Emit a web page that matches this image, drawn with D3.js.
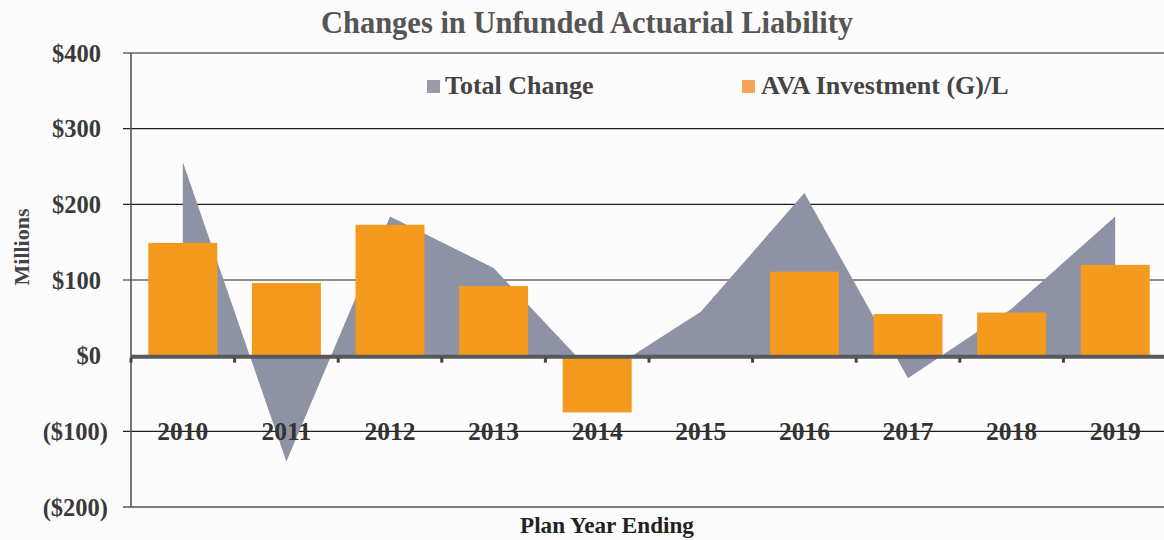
<!DOCTYPE html>
<html>
<head>
<meta charset="utf-8">
<script src="https://cdn.jsdelivr.net/npm/d3@7"></script>
<style>
  html, body { margin: 0; padding: 0; background: #fdfcfc; }
  svg { display: block; }
  text { font-family: "Liberation Serif", "Times New Roman", serif; font-weight: bold; }
</style>
</head>
<body>
<svg id="chart" width="1164" height="540"></svg>
<script>
const years = ["2010","2011","2012","2013","2014","2015","2016","2017","2018","2019"];
const totalChange = [256, -140, 184, 116, -30, 58, 215, -30, 62, 184];
const avaInvestment = [149, 96, 173, 92, -75, 0, 111, 55, 57, 120];
const yTicks = [-200, -100, 0, 100, 200, 300, 400];
const seriesNames = ["Total Change", "AVA Investment (G)/L"];

(function () {
const svg = d3.select("#chart");
const W = 1164, H = 540;
const pLeft = 131, pRight = 1167, pTop = 53, pBottom = 507;

const x = d3.scaleBand().domain(years).range([pLeft, pRight]).paddingInner(0.334).paddingOuter(0.167);
const y = d3.scaleLinear().domain([-200, 400]).range([pBottom, pTop]);

const fmt = v => v < 0 ? "($" + Math.abs(v) + ")" : "$" + v;

// gridlines
svg.append("g").selectAll("line").data(yTicks.filter(v => v !== 0 && v !== -200)).join("line")
  .attr("x1", pLeft - 8).attr("x2", W).attr("y1", d => y(d)).attr("y2", d => y(d))
  .attr("stroke", "#1e1e1e").attr("stroke-width", 1.2);
svg.append("line").attr("x1", pLeft - 8).attr("x2", W).attr("y1", y(-200)).attr("y2", y(-200))
  .attr("stroke", "#555").attr("stroke-width", 1.5);

// y axis labels
svg.append("g").selectAll("text").data(yTicks).join("text")
  .attr("x", d => d < 0 ? 108 : 101)
  .attr("y", d => y(d)).attr("dy", "0.36em")
  .attr("text-anchor", "end").attr("font-size", 24.5).attr("fill", "#3a3a3a")
  .text(fmt);

// area for total change
const area = d3.area()
  .x((d, i) => x(years[i]) + x.bandwidth() / 2)
  .y0(y(0)).y1(d => y(d))
  .curve(d3.curveLinear);
svg.append("path").datum(totalChange).attr("d", area).attr("fill", "#8d92a5");

// bars
svg.append("g").selectAll("rect").data(avaInvestment).join("rect")
  .attr("x", (d, i) => x(years[i]))
  .attr("width", x.bandwidth())
  .attr("y", d => y(Math.max(0, d)))
  .attr("height", d => Math.abs(y(d) - y(0)))
  .attr("fill", "#f39a1f");

// y axis line
svg.append("line").attr("x1", pLeft).attr("x2", pLeft).attr("y1", pTop).attr("y2", pBottom)
  .attr("stroke", "#555").attr("stroke-width", 1.6);

// zero axis
svg.append("line").attr("x1", pLeft).attr("x2", W).attr("y1", y(0) + 1).attr("y2", y(0) + 1)
  .attr("stroke", "#58595b").attr("stroke-width", 4);
// tick marks at band boundaries
svg.append("g").selectAll("rect").data(years).join("rect")
  .attr("x", d => x(d) - x.step() * x.paddingInner() / 2 - 1.5)
  .attr("y", y(0) + 2).attr("width", 3).attr("height", 5)
  .attr("fill", "#444");

// category labels
svg.append("g").selectAll("text").data(years).join("text")
  .attr("x", d => x(d) + x.bandwidth() / 2)
  .attr("y", y(-100)).attr("dy", "0.34em")
  .attr("text-anchor", "middle").attr("font-size", 25.5).attr("fill", "#333")
  .text(d => d);

// title
svg.append("text").attr("x", 587).attr("y", 33).attr("text-anchor", "middle")
  .attr("font-size", 30.5).attr("fill", "#555").text("Changes in Unfunded Actuarial Liability");

// axis titles
svg.append("text").attr("transform", "translate(29,247) rotate(-90)")
  .attr("text-anchor", "middle").attr("font-size", 22).attr("fill", "#444").text("Millions");
svg.append("text").attr("x", 607).attr("y", 533).attr("text-anchor", "middle")
  .attr("font-size", 23.2).attr("fill", "#222").text("Plan Year Ending");

// legend
const legend = [
  { name: seriesNames[0], color: "#9a9cac", sx: 427, tx: 445 },
  { name: seriesNames[1], color: "#f4a458", sx: 742, tx: 761 }
];
const lg = svg.append("g").selectAll("g").data(legend).join("g");
lg.append("rect").attr("x", d => d.sx).attr("y", 80).attr("width", 13).attr("height", 13).attr("fill", d => d.color);
lg.append("text").attr("x", d => d.tx).attr("y", 94).attr("font-size", 26).attr("fill", "#444").text(d => d.name);
})();
</script>
</body>
</html>
